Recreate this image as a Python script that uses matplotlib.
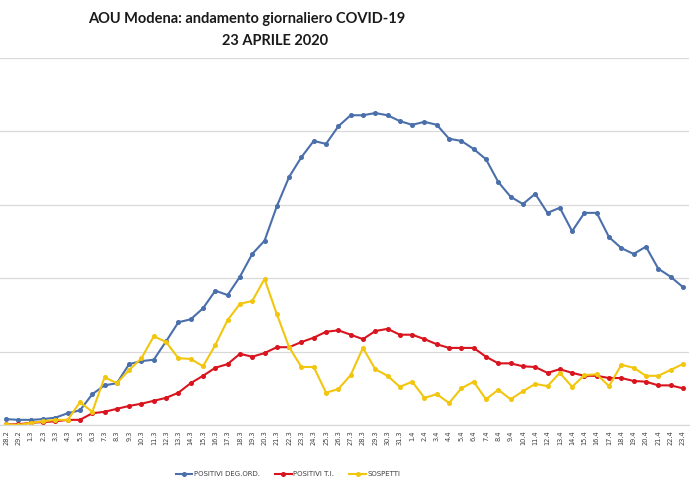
import matplotlib
matplotlib.use("Agg")
import matplotlib.pyplot as plt
from matplotlib.lines import Line2D

dates = ["28.2", "29.2"] + [f"{d}.3" for d in range(1, 32)] + [f"{d}.4" for d in range(1, 24)]

positivi_deg = [8, 7, 7, 8, 10, 16, 20, 42, 54, 57, 83, 87, 89, 114, 140, 144, 159, 183, 177, 202,
                233, 251, 298, 338, 365, 387, 383, 407, 422, 422, 425, 422, 414, 409, 413, 409,
                390, 387, 376, 362, 331, 311, 301, 315, 289, 296, 264, 289, 289, 256, 241, 233,
                243, 213, 202, 188]
positivi_ti = [1, 1, 3, 4, 5, 7, 7, 16, 18, 22, 26, 29, 33, 37, 44, 57, 67, 78, 83, 97,
               93, 98, 106, 106, 113, 119, 127, 129, 123, 117, 128, 131, 123, 123, 117, 110,
               105, 105, 105, 93, 84, 84, 80, 79, 71, 76, 71, 67, 67, 64, 64, 60,
               59, 54, 54, 50]
sospetti = [1, 0, 3, 5, 7, 7, 31, 18, 65, 57, 75, 91, 121, 113, 91, 90, 80, 109, 143, 165,
            169, 199, 151, 106, 79, 79, 44, 49, 68, 105, 76, 67, 52, 59, 37, 42,
            30, 50, 59, 35, 48, 35, 46, 56, 53, 71, 52, 68, 69, 53, 82, 78,
            67, 67, 75, 83]

series_names = ["POSITIVI DEG.ORD.", "POSITIVI T.I.", "SOSPETTI"]
colors = ["#4A6FAA", "#D9141E", "#F2C60F"]
yticks = [0, 100, 200, 300, 400, 500]

fig = plt.figure(figsize=(7, 4.93), dpi=100)
ax = fig.add_axes([0.0, 68 / 493, 689 / 700, 367 / 493])

x = list(range(len(dates)))
for vals, c in zip([positivi_deg, positivi_ti, sospetti], colors):
    ax.plot(x, vals, color=c, lw=1.5, marker="o", markersize=2.6,
            markerfacecolor=c, markeredgecolor=c, solid_joinstyle="round")

ax.set_xlim(-0.5, len(dates) - 0.5)
ax.set_ylim(0, 500)
ax.set_yticks(yticks)
ax.set_yticklabels([])
ax.grid(axis="y", color="#d9d9d9", lw=0.9)
ax.set_axisbelow(True)
ax.tick_params(axis="y", length=0)
ax.set_xticks(x)
ax.set_xticklabels(dates, rotation=90, fontsize=4.8, color="#404040")
ax.tick_params(axis="x", length=0, pad=4)
for s in ["top", "right", "left"]:
    ax.spines[s].set_visible(False)
ax.spines["bottom"].set_color("#d9d9d9")
ax.spines["bottom"].set_linewidth(0.9)

fig.text(247 / 700, 1 - 19 / 493, "AOU Modena: andamento giornaliero COVID-19",
         ha="center", va="center", fontsize=10.5, fontweight="bold",
         family=["Lato", "DejaVu Sans"], color="#1a1a1a")
fig.text(275 / 700, 1 - 41 / 493, "23 APRILE 2020",
         ha="center", va="center", fontsize=10.5, fontweight="bold",
         family=["Lato", "DejaVu Sans"], color="#1a1a1a")

handles = [Line2D([0], [0], color=c, lw=1.5, marker="o", markersize=2.6) for c in colors]
fig.legend(handles, series_names, loc="center", bbox_to_anchor=(288 / 700, 1 - 474 / 493),
           ncol=3, frameon=False, fontsize=5, handlelength=2.4, handletextpad=0.2,
           columnspacing=2.2, labelcolor="#404040")

fig.savefig("out.png", dpi=100)
